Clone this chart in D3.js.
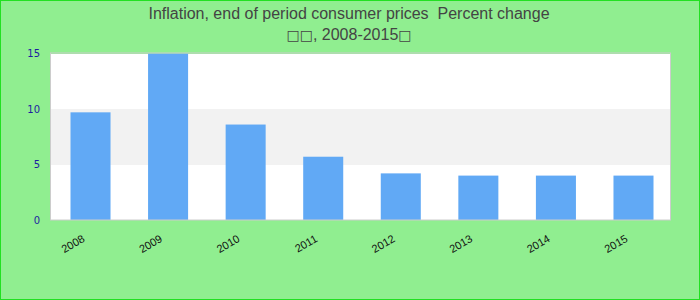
<!DOCTYPE html>
<html><head><meta charset="utf-8">
<script src="https://cdn.jsdelivr.net/npm/d3@7"></script>
<style>html,body{margin:0;padding:0;background:#90ee90;}svg{display:block;}</style>
</head><body>
<svg id="chart" width="700" height="300"></svg>
<script>
const titleLine1 = "Inflation, end of period consumer prices\u00a0 Percent change";
const titleLine2 = ["\u25a1\u25a1", ", 2008-2015", "\u25a1"];
const categories = ["2008","2009","2010","2011","2012","2013","2014","2015"];
const values = [9.7, 15.0, 8.6, 5.7, 4.2, 4.0, 4.0, 4.0];
const yTicks = [0, 5, 10, 15];
const bands = [[0,5,"#ffffff"],[5,10,"#f2f2f2"],[10,15,"#ffffff"]];

const W = 700, H = 300;
const m = {left: 50, right: 30, top: 53.5, bottom: 80};
const svg = d3.select("#chart");

svg.append("rect").attr("x",0.5).attr("y",0.5).attr("width",W-1).attr("height",H-1)
  .attr("fill","#90ee90").attr("stroke","#22e022").attr("stroke-width",1);

const x = d3.scaleBand().domain(categories).range([m.left + 2, W - m.right + 2]).paddingInner(0.484).paddingOuter(0.2385);
const y = d3.scaleLinear().domain([0, 15]).range([H - m.bottom, m.top]);

const g = svg.append("g");
g.selectAll("rect.band").data(bands).join("rect").attr("class","band")
  .attr("x", m.left).attr("width", W - m.right - m.left)
  .attr("y", d => Math.round(y(d[1]))).attr("height", d => Math.round(y(d[0])) - Math.round(y(d[1])))
  .attr("fill", d => d[2]).attr("shape-rendering","crispEdges");

g.selectAll("rect.bar").data(values).join("rect").attr("class","bar")
  .attr("x", (d,i) => x(categories[i])).attr("width", x.bandwidth())
  .attr("y", d => y(d)).attr("height", d => y(0) - y(d))
  .attr("fill", "#61a9f5");

g.append("rect").attr("x", m.left + 0.5).attr("y", m.top - 0.5)
  .attr("width", W - m.right - m.left).attr("height", y(0) - m.top + 0.5)
  .attr("fill","none").attr("stroke","#cccccc").attr("stroke-width",1);

const yAxis = svg.append("g").attr("transform", `translate(${m.left},0)`)
  .call(d3.axisLeft(y).tickValues(yTicks).tickSize(0).tickPadding(10));
yAxis.select(".domain").remove();
yAxis.selectAll("text").attr("fill","#1e1ea0").style("font-family","DejaVu Sans").style("font-size","10px");

const xAxis = svg.append("g").attr("transform", `translate(0,${y(0)})`)
  .call(d3.axisBottom(x).tickSize(0));
xAxis.select(".domain").remove();
xAxis.selectAll("text")
  .attr("fill","#111").style("font-family","Liberation Sans, Arial, sans-serif").style("font-size","11px")
  .attr("text-anchor","end").attr("dy",null).attr("y",null)
  .attr("transform","translate(-5,21) rotate(-30)");

const tstyle = s => s.attr("text-anchor","middle").attr("fill","#444")
  .style("font-family","Liberation Sans, Arial, sans-serif").style("font-size","16px");
svg.append("text").attr("x", 349).attr("y", 19).call(tstyle).text(titleLine1);
const t2 = svg.append("text").attr("x", 349).attr("y", 40).call(tstyle);
t2.selectAll("tspan").data(titleLine2).join("tspan")
  .style("font-family", (d,i) => i % 2 === 0 ? "'DejaVu Sans'" : null)
  .style("font-size", (d,i) => i % 2 === 0 ? "14px" : null)
  .text(d => d);
</script>
</body></html>
